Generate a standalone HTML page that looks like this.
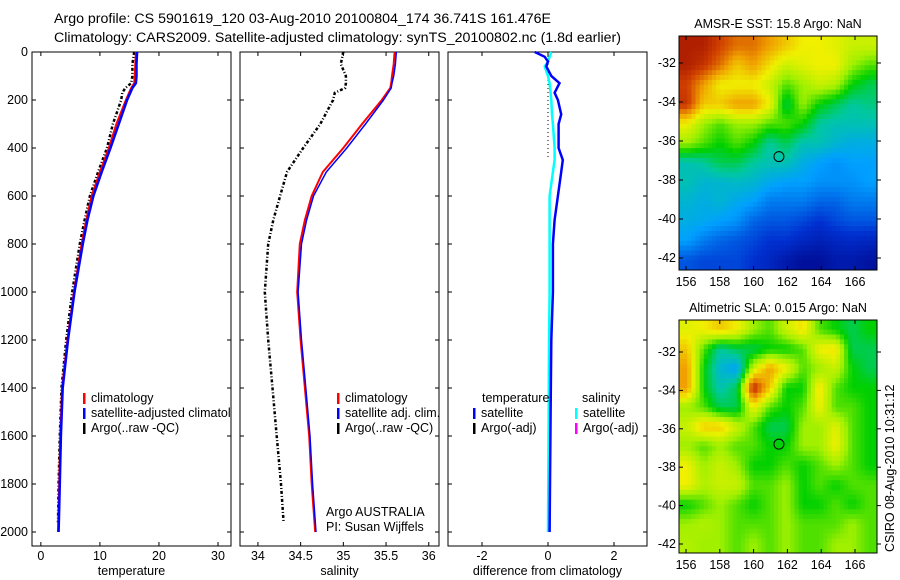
<!DOCTYPE html>
<html><head><meta charset="utf-8"><style>
body{margin:0;background:#fff;}
svg{display:block;font-family:"Liberation Sans",sans-serif;}
</style></head><body>
<svg id="fig" width="900" height="580" viewBox="0 0 900 580" xmlns="http://www.w3.org/2000/svg">
<defs><clipPath id="clipT"><rect x="32" y="52" width="199" height="494"/></clipPath></defs>
<rect width="900" height="580" fill="#fff"/>
<text x="54" y="23" font-size="14.2">Argo profile: CS 5901619_120 03-Aug-2010 20100804_174 36.741S 161.476E</text>
<text x="54" y="42" font-size="14.2">Climatology: CARS2009. Satellite-adjusted climatology: synTS_20100802.nc (1.8d earlier)</text>
<g id="g"></g>
</svg>
<script>
// ---- data ----
const depths = [0,50,100,130,150,200,300,400,500,600,700,800,1000,1200,1400,1600,1800,2000];
const tempClim = [16.1,16.0,15.9,15.8,15.3,14.4,12.8,11.5,10.0,8.6,7.7,6.9,5.6,4.5,3.6,3.3,3.1,2.9];
const tempSat  = [16.3,16.2,16.2,16.1,15.5,14.6,13.2,11.8,10.3,8.9,7.9,7.1,5.7,4.6,3.7,3.4,3.2,3.0];
const argoDepths = [0,50,100,130,150,170,200,300,400,500,600,700,800,1000,1200,1400,1600,1800,1960];
const tempArgo = [15.8,15.5,15.5,15.3,14.3,13.8,13.6,12.2,11.2,9.7,8.3,7.4,6.6,5.3,4.3,3.5,3.2,3.0,2.9];
const salClim = [35.6,35.59,35.57,35.56,35.55,35.45,35.22,35.0,34.76,34.63,34.55,34.49,34.46,34.5,34.55,34.6,34.63,34.67];
const salSat  = [35.62,35.61,35.59,35.57,35.56,35.47,35.26,35.04,34.8,34.65,34.57,34.51,34.47,34.51,34.56,34.61,34.64,34.68];
const salArgo = [35.0,34.97,35.03,35.03,35.02,34.9,34.88,34.73,34.53,34.34,34.26,34.18,34.12,34.08,34.12,34.17,34.22,34.27,34.3];
const diffDepths = [0,20,40,60,100,130,170,200,260,300,400,450,500,600,700,800,1000,1200,1500,2000];
const diffTemp = [-0.4,-0.1,0.0,-0.05,0.1,0.35,0.2,0.3,0.4,0.32,0.32,0.45,0.4,0.3,0.2,0.15,0.15,0.1,0.08,0.05];
const diffSal  = [0.1,0.05,0.0,-0.1,0.0,0.05,0.08,0.1,0.12,0.15,0.2,0.2,0.15,0.05,0.05,0.05,0.05,0.03,0.02,0.0];
const sstGrid = [
[.95,.95,.9,.85,.85,.8,.75,.7,.7,.68,.65,.65],
[.95,.92,.85,.75,.8,.72,.65,.68,.7,.7,.6,.55],
[.9,.8,.7,.7,.7,.65,.55,.6,.65,.62,.5,.45],
[.92,.75,.75,.8,.8,.7,.45,.6,.5,.45,.4,.42],
[.7,.6,.55,.6,.6,.55,.55,.5,.4,.38,.38,.38],
[.6,.55,.5,.55,.5,.4,.45,.38,.38,.35,.33,.33],
[.38,.4,.45,.45,.4,.38,.38,.33,.3,.28,.3,.3],
[.38,.35,.35,.36,.35,.32,.3,.3,.28,.28,.28,.3],
[.35,.33,.35,.32,.3,.25,.25,.25,.22,.22,.25,.25],
[.33,.32,.3,.28,.22,.2,.2,.18,.15,.18,.2,.2],
[.3,.25,.22,.2,.18,.15,.15,.12,.1,.12,.13,.12],
[.2,.18,.18,.18,.15,.12,.08,.05,.05,.08,.08,.06]];
const slaGrid = [
[.68,.7,.75,.7,.6,.55,.65,.72,.55,.5,.45,.5],
[.75,.55,.4,.45,.45,.5,.5,.55,.7,.72,.45,.45],
[.8,.5,.35,.3,.65,.8,.7,.55,.6,.65,.5,.45],
[.8,.5,.38,.45,.95,.75,.5,.5,.72,.55,.5,.5],
[.6,.55,.45,.45,.7,.55,.5,.55,.7,.55,.55,.5],
[.65,.75,.75,.65,.55,.45,.45,.6,.6,.68,.55,.5],
[.6,.55,.6,.55,.55,.5,.5,.6,.6,.7,.55,.5],
[.7,.6,.65,.6,.5,.5,.55,.5,.55,.6,.55,.5],
[.7,.62,.65,.65,.55,.55,.6,.5,.55,.5,.55,.55],
[.5,.55,.6,.55,.5,.55,.6,.5,.5,.55,.5,.55],
[.6,.62,.6,.55,.55,.55,.6,.55,.55,.55,.6,.55],
[.62,.6,.6,.55,.6,.55,.6,.55,.55,.6,.6,.55]];
const depthTicks = [0,200,400,600,800,1000,1200,1400,1600,1800,2000];
const tempTicks = [0,10,20,30];
const salTicks = [34,34.5,35,35.5,36];
const diffTicks = [-2,0,2];
const lonTicks = [156,158,160,162,164,166];
const latTicks = [-32,-34,-36,-38,-40,-42];
const argoLon = 161.5, argoLat = -36.8;

// ---- helpers ----
const NS="http://www.w3.org/2000/svg";
const G=document.getElementById('g');
function mk(t,a,p){const e=document.createElementNS(NS,t);for(const k in a)e.setAttribute(k,a[k]);(p||G).appendChild(e);return e;}
const yD = d => 52 + d*0.24;
const panelTop=52, panelBot=546;
const FS=12.5;

function panel(x0,x1,dmin,dmax,ticks,label,name,showDepth){
  const sx=v=>x0+(v-dmin)/(dmax-dmin)*(x1-x0);
  const g=mk('g',{});
  
  
  mk('rect',{x:x0,y:panelTop,width:x1-x0,height:panelBot-panelTop,fill:'none',stroke:'#000','stroke-width':1},g);
  ticks.forEach(t=>{
    const x=sx(t);
    mk('line',{x1:x,x2:x,y1:panelTop,y2:panelTop+4,stroke:'#000'},g);
    mk('line',{x1:x,x2:x,y1:panelBot,y2:panelBot-4,stroke:'#000'},g);
    const tx=mk('text',{x:x,y:560,'font-size':FS,'text-anchor':'middle'},g);
    tx.textContent=t;
    
    
  });
  depthTicks.forEach(d=>{
    const y=yD(d);
    mk('line',{x1:x0,x2:x0+4,y1:y,y2:y,stroke:'#000'},g);
    mk('line',{x1:x1,x2:x1-4,y1:y,y2:y,stroke:'#000'},g);
    if(showDepth){const t=mk('text',{x:x0-4,y:y+4,'font-size':FS,'text-anchor':'end'},g);t.textContent=d;
      
      }
  });
  const lt=mk('text',{x:(x0+x1)/2,y:575,'font-size':FS,'text-anchor':'middle'},g);
  lt.textContent=label;
  
  
  return {sx,g};
}
function line(p,vals,ds,color,w,dash,name){
  const pts=vals.map((v,i)=>p.sx(v).toFixed(1)+','+yD(ds[i]).toFixed(1)).join(' ');
  const a={points:pts,fill:'none',stroke:color,'stroke-width':w};
  if(dash)a['stroke-dasharray']=dash;
  const e=mk('polyline',a,p.g);
  
  
}
function legend(g,x,y,items){
  items.forEach((it,i)=>{
    mk('rect',{x:x,y:y+i*15-9,width:2.5,height:11,fill:it[0]},g);
    const t=mk('text',{x:x+8,y:y+i*15,'font-size':FS},g);t.textContent=it[1];
    
    
  });
}

// temperature
const pT=panel(32,231,-1.5,32.2,tempTicks,'temperature','temperature-panel',true);
line(pT,tempArgo,argoDepths,'#000',2.5,'3,2,1,2','argo-temp-line');
line(pT,tempClim,depths,'#f00',2,null,'clim-temp-line');
line(pT,tempSat,depths,'#00f',2.5,null,'sat-temp-line');
const legT=mk('g',{'clip-path':'url(#clipT)'},pT.g);
legend(legT,83,402,[['#f00','climatology'],['#00f','satellite-adjusted climatology'],['#000','Argo(..raw -QC)']]);

// salinity
const pS=panel(240,439,33.79,36.12,salTicks,'salinity','salinity-panel',false);
line(pS,salArgo,argoDepths,'#000',2.5,'3,2,1,2','argo-sal-line');
line(pS,salClim,depths,'#f00',2,null,'clim-sal-line');
line(pS,salSat,depths,'#00f',1.5,null,'sat-sal-line');
legend(pS.g,337,402,[['#f00','climatology'],['#00f','satellite adj. clim.'],['#000','Argo(..raw -QC)']]);
[['Argo AUSTRALIA',516],['PI: Susan Wijffels',531]].forEach(a=>{const t=mk('text',{x:326,y:a[1],'font-size':FS},pS.g);t.textContent=a[0];
  
  });

// difference
const pD=panel(448,647,-3.03,3.0,diffTicks,'difference from climatology','difference-panel',false);
mk('line',{x1:pD.sx(0),x2:pD.sx(0),y1:yD(0),y2:yD(450),stroke:'#000','stroke-dasharray':'1,3'},pD.g);
line(pD,diffSal,diffDepths,'#0ff',2.5,null,'sal-diff-line');
line(pD,diffTemp,diffDepths,'#00f',2.5,null,'temp-diff-line');
{const t=mk('text',{x:482,y:402,'font-size':FS},pD.g);t.textContent='temperature';}
{const t=mk('text',{x:582,y:402,'font-size':FS},pD.g);t.textContent='salinity';}
legend(pD.g,473,417,[['#00f','satellite'],['#000','Argo(-adj)']]);
legend(pD.g,575,417,[['#0ff','satellite'],['#f0f','Argo(-adj)']]);

// maps
function cmap(v){
  const s=[[0,[0,0,128]],[.15,[0,48,208]],[.3,[0,160,255]],[.4,[0,200,160]],[.5,[0,208,0]],[.6,[160,240,0]],[.7,[240,240,0]],[.8,[240,160,0]],[.9,[208,64,0]],[1,[144,0,0]]];
  for(let i=1;i<s.length;i++){if(v<=s[i][0]){const f=(v-s[i-1][0])/(s[i][0]-s[i-1][0]);const c=s[i-1][1].map((a,k)=>Math.round(a+(s[i][1][k]-a)*f));return 'rgb('+c+')';}}
  return 'rgb(144,0,0)';
}
function sample(grid,u,v){
  const R=grid.length,C=grid[0].length;
  u=Math.max(0,Math.min(C-1,u));v=Math.max(0,Math.min(R-1,v));
  const j=Math.min(C-2,Math.floor(u)),i=Math.min(R-2,Math.floor(v)),fu=u-j,fv=v-i;
  return grid[i][j]*(1-fu)*(1-fv)+grid[i][j+1]*fu*(1-fv)+grid[i+1][j]*(1-fu)*fv+grid[i+1][j+1]*fu*fv;
}
function map(x0,y0,x1,y1,grid,title,name,latY32,latY42){
  const g=mk('g',{});
  
  
  const rows=grid.length,cols=grid[0].length,sub=4;
  const nr=rows*sub,nc=cols*sub,cw=(x1-x0)/nc,ch=(y1-y0)/nr;
  for(let i=0;i<nr;i++)for(let j=0;j<nc;j++){
    const v=sample(grid,(j+0.5)/sub-0.5,(i+0.5)/sub-0.5);
    const c=mk('rect',{x:(x0+j*cw).toFixed(2),y:(y0+i*ch).toFixed(2),width:(cw+0.5).toFixed(2),height:(ch+0.5).toFixed(2),fill:cmap(v)},g);
    
    
  }
  mk('rect',{x:x0,y:y0,width:x1-x0,height:y1-y0,fill:'none',stroke:'#000'},g);
  const lx=l=>686+(l-156)*16.9;
  const ly=l=>latY32+(-32-l)*(latY42-latY32)/10;
  lonTicks.forEach(l=>{const x=lx(l);mk('line',{x1:x,x2:x,y1:y1,y2:y1-4,stroke:'#000'},g);mk('line',{x1:x,x2:x,y1:y0,y2:y0+4,stroke:'#000'},g);
    const t=mk('text',{x:x,y:y1+16,'font-size':FS,'text-anchor':'middle'},g);t.textContent=l;
    });
  latTicks.forEach(l=>{const y=ly(l);mk('line',{x1:x1,x2:x1+4,y1:y,y2:y,stroke:'#000'},g);mk('line',{x1:x0,x2:x0+4,y1:y,y2:y,stroke:'#000'},g);
    const t=mk('text',{x:x0-3,y:y+4,'font-size':FS,'text-anchor':'end'},g);t.textContent=l;
    });
  const c=mk('circle',{cx:lx(argoLon),cy:ly(argoLat),r:5,fill:'none',stroke:'#000'},g);
  
  
  const t=mk('text',{x:(x0+x1)/2,y:y0-8,'font-size':FS,'text-anchor':'middle'},g);t.textContent=title;
  
}
map(679,36,877,270,sstGrid,'AMSR-E SST: 15.8 Argo: NaN','sst-map',63,258);
map(679,320,877,553,slaGrid,'Altimetric SLA: 0.015 Argo: NaN','sla-map',352,544);
{const t=mk('text',{x:0,y:0,'font-size':FS,transform:'translate(894,552) rotate(-90)'});t.textContent='CSIRO 08-Aug-2010 10:31:12';
 }
</script>
</body></html>
